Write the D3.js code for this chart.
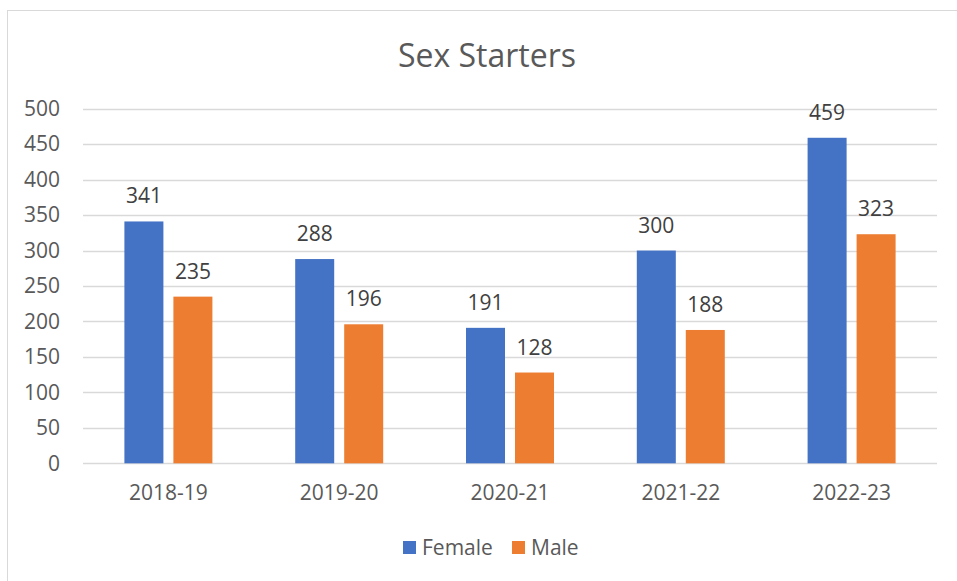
<!DOCTYPE html>
<html>
<head>
<meta charset="utf-8">
<script src="https://cdn.jsdelivr.net/npm/d3@7"></script>
<style>
  body { margin: 0; background: #fff; }
  svg { display: block; font-family: "Open Sans", "Noto Sans", sans-serif; }
</style>
</head>
<body>
<svg id="chart" width="957" height="581"></svg>
<script>
    var categories = ['2018-19', '2019-20', '2020-21', '2021-22', '2022-23'];
    var seriesNames = ['Female', 'Male'];
    var female = [341, 288, 191, 300, 459];
    var male = [235, 196, 128, 188, 323];
    var yTicks = [0, 50, 100, 150, 200, 250, 300, 350, 400, 450, 500];

    var colors = { 'Female': '#4472c4', 'Male': '#ed7d31' };

    var svg = d3.select('#chart');

    // outer chart border (right and bottom edges fall outside the picture)
    svg.append('rect')
      .attr('x', 7.5).attr('y', 10.5)
      .attr('width', 960).attr('height', 580)
      .attr('fill', '#fff')
      .attr('stroke', '#d9d9d9');

    var plotLeft = 83, plotRight = 937, plotTop = 108.7, plotBottom = 463.3;

    var x = d3.scaleBand().domain(categories).range([plotLeft, plotRight]);
    var x1 = d3.scaleBand().domain(seriesNames).range([0, x.bandwidth()])
      .paddingInner(0.204).paddingOuter(0.845);
    var y = d3.scaleLinear().domain([0, 500]).range([plotBottom, plotTop]);

    // gridlines
    svg.append('g')
      .selectAll('line')
      .data(yTicks)
      .enter().append('line')
      .attr('x1', plotLeft).attr('x2', plotRight)
      .attr('y1', function(d) { return Math.round(y(d)) + 0.5; })
      .attr('y2', function(d) { return Math.round(y(d)) + 0.5; })
      .attr('stroke', '#d9d9d9')
      .attr('stroke-width', 1.3);

    // y axis labels
    var yAxis = d3.axisLeft(y).tickValues(yTicks).tickSize(0).tickPadding(0);
    var yg = svg.append('g')
      .attr('transform', 'translate(60,0)')
      .call(yAxis);
    yg.select('.domain').remove();
    yg.selectAll('text')
      .attr('fill', '#595959')
      .style('font-size', '21px')
      .style('font-family', '"Open Sans", sans-serif');

    // x axis labels
    var xAxis = d3.axisBottom(x).tickSize(0).tickPadding(0);
    var xg = svg.append('g')
      .attr('transform', 'translate(0,' + (plotBottom + 22) + ')')
      .call(xAxis);
    xg.select('.domain').remove();
    xg.selectAll('text')
      .attr('fill', '#595959')
      .style('font-size', '21px')
      .style('font-family', '"Open Sans", sans-serif');

    var rows = categories.map(function(c, i) {
      return { category: c, values: [
        { name: 'Female', value: female[i] },
        { name: 'Male', value: male[i] }
      ] };
    });

    var groups = svg.append('g')
      .selectAll('g')
      .data(rows)
      .enter().append('g')
      .attr('transform', function(d) { return 'translate(' + x(d.category) + ',0)'; });

    groups.selectAll('rect')
      .data(function(d) { return d.values; })
      .enter().append('rect')
      .attr('x', function(d) { return x1(d.name); })
      .attr('width', x1.bandwidth())
      .attr('y', function(d) { return y(d.value); })
      .attr('height', function(d) { return plotBottom - y(d.value); })
      .attr('fill', function(d) { return colors[d.name]; });

    groups.selectAll('text')
      .data(function(d) { return d.values; })
      .enter().append('text')
      .attr('x', function(d) { return x1(d.name) + x1.bandwidth() / 2; })
      .attr('y', function(d) { return y(d.value) - 18; })
      .attr('text-anchor', 'middle')
      .attr('fill', '#404040')
      .style('font-size', '21px')
      .text(function(d) { return d.value; });

    // title
    svg.append('text')
      .attr('x', 487).attr('y', 67)
      .attr('text-anchor', 'middle')
      .attr('fill', '#595959')
      .style('font-size', '32px')
      .text('Sex Starters');

    // legend
    var legend = svg.append('g');
    var legendX = [403, 512];
    seriesNames.forEach(function(name, i) {
      legend.append('rect')
        .attr('x', legendX[i]).attr('y', 541)
        .attr('width', 13).attr('height', 13)
        .attr('fill', colors[name]);
      legend.append('text')
        .attr('x', legendX[i] + 19).attr('y', 555)
        .attr('fill', '#595959')
        .style('font-size', '21px')
        .text(name);
    });
</script>
</body>
</html>
